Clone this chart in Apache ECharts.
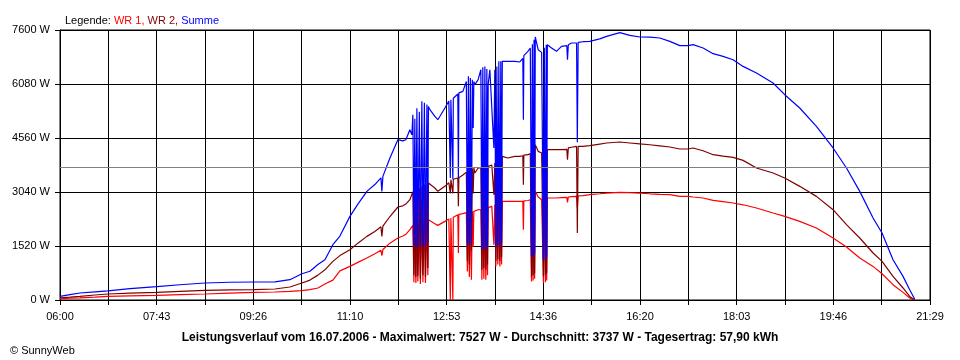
<!DOCTYPE html>
<html>
<head>
<meta charset="utf-8">
<script src="https://cdn.jsdelivr.net/npm/echarts@6/dist/echarts.min.js"></script>
<style>
html,body{margin:0;padding:0;background:#fff;}
#chart{width:960px;height:360px;}
</style>
</head>
<body>
<div id="chart"></div>
<script>
// Time in minutes after 06:00
const minutesAfter6 = [
  0, 10.7, 21.3, 37.4, 51.2, 74.7, 103.5, 128.1, 154.8, 181.5,
  207.1, 229.5, 245.5, 258.3, 266.9, 275.4, 282.9, 291.4, 298.9, 309.6,
  318.1, 327.7, 336.2, 342.7, 343.7, 344.8, 352.3, 360.8, 366.1, 369.3,
  373.6, 375.7, 376.8, 377.9, 378.9, 380.0, 381.1, 382.1, 383.7, 384.8,
  386.4, 387.5, 389.1, 390.2, 391.8, 392.8, 393.4, 395.0, 400.3, 403.5,
  411.0, 415.2, 416.8, 417.4, 419.5, 420.0, 421.6, 424.8, 425.4, 425.9,
  430.2, 433.9, 435.0, 436.1, 437.1, 438.2, 439.3, 440.3, 441.2, 441.9,
  443.0, 446.5, 449.4, 450.5, 451.5, 452.6, 453.7, 454.7, 455.8, 456.5,
  457.2, 459.0, 461.1, 463.3, 464.3, 465.4, 466.5, 467.5, 468.6, 469.7,
  470.7, 471.5, 472.3, 478.2, 485.7, 491.0, 494.2, 494.8, 495.3, 499.6,
  502.2, 503.5, 504.4, 505.2, 506.2, 506.8, 507.5, 510.6, 514.3, 516.2,
  517.2, 518.3, 519.2, 519.7, 520.4, 524.9, 530.2, 535.5, 541.2, 541.9,
  542.8, 546.2, 551.6, 552.4, 553.3, 558.6, 565.7, 576.4, 583.6, 597.8,
  608.5, 619.1, 629.8, 640.5, 651.2, 661.8, 670.7, 676.0, 686.7, 697.4,
  708.0, 718.7, 729.4, 743.7, 761.4, 773.9, 789.9, 807.7, 825.5, 839.8,
  854.0, 868.2, 877.8, 889.5, 900.2, 907.3, 912.6
];
const summe = [
  100, 150, 197, 230, 259, 320, 375, 430, 478, 500,
  507, 510, 571, 740, 810, 1000, 1134, 1557, 1800, 2354,
  2700, 3058, 3250, 3440, 3058, 3480, 3997, 4512, 4480, 4512,
  4794, 4653, 5216, 1550, 5100, 1500, 5400, 1520, 5300, 1480,
  5591, 1550, 5550, 1500, 5500, 1600, 5450, 5357, 5168, 5075,
  5404, 5600, 3434, 5638, 3400, 5680, 5731, 5800, 3434, 5830,
  5872, 6150, 1557, 6295, 1600, 6250, 1557, 6200, 4842, 6150,
  6061, 6202, 6483, 1416, 6550, 1450, 6576, 1416, 6500, 1500,
  6061, 6480, 6482, 4279, 6482, 1509, 6576, 1550, 6717, 1509,
  6717, 1600, 6718, 6717, 6717, 6700, 6800, 5075, 6880, 7000,
  7093, 1227, 7200, 1227, 7328, 1300, 7403, 7046, 6970, 1134,
  7100, 1134, 7187, 1200, 7187, 7093, 6999, 7140, 7160, 6765,
  7187, 7234, 7234, 4437, 7250, 7270, 7281, 7350, 7421, 7527,
  7450, 7403, 7400, 7375, 7281, 7159, 7159, 7187, 7093, 6933,
  6858, 6764, 6576, 6390, 6108, 5779, 5404, 4887, 4279, 3716,
  3058, 2308, 1886, 1134, 665, 290, 28
];
const wr2 = [
  60, 80, 101, 140, 169, 195, 214, 245, 270, 285,
  290, 310, 366, 478, 560, 700, 850, 1087, 1250, 1416,
  1600, 1791, 1930, 2060, 1791, 2080, 2350, 2618, 2650, 2700,
  2823, 2870, 3050, 700, 3050, 650, 3100, 680, 3150, 600,
  3200, 700, 3250, 650, 3250, 900, 3293, 3293, 3152, 3058,
  3199, 3300, 3000, 3387, 3000, 3400, 3420, 3434, 2636, 3440,
  3520, 3600, 1100, 3650, 1000, 3680, 1400, 3700, 3000, 3716,
  3575, 3716, 3716, 853, 3740, 900, 3760, 853, 3760, 1000,
  3762, 3780, 3800, 2964, 3856, 1100, 3880, 1150, 3997, 1100,
  4043, 1200, 4043, 3997, 4043, 4043, 4060, 3246, 4080, 4090,
  4120, 665, 4200, 700, 4300, 750, 4372, 4184, 4138, 665,
  4200, 700, 4231, 750, 4231, 4231, 4231, 4231, 4240, 3949,
  4280, 4300, 4324, 1886, 4324, 4324, 4344, 4390, 4419, 4448,
  4420, 4392, 4370, 4340, 4307, 4251, 4251, 4279, 4200, 4090,
  4050, 4015, 3930, 3716, 3575, 3434, 3199, 2917, 2542, 2120,
  1745, 1323, 1087, 665, 338, 101, 0
];
const wr1 = [
  30, 50, 60, 80, 101, 115, 130, 150, 169, 195,
  214, 225, 240, 262, 290, 338, 450, 560, 820, 946,
  1060, 1182, 1300, 1400, 1250, 1420, 1600, 1745, 1800, 1850,
  1979, 1990, 2100, 500, 2050, 480, 2150, 520, 2150, 450,
  2250, 500, 2250, 480, 2250, 700, 2260, 2260, 2148, 2100,
  2213, 2280, 0, 2308, 0, 2330, 2360, 2401, 1323, 2410,
  2430, 2460, 800, 2480, 650, 2490, 571, 2495, 1500, 2495,
  2449, 2542, 2540, 571, 2560, 600, 2580, 571, 2590, 700,
  2600, 2610, 2636, 1557, 2683, 946, 2700, 1000, 2730, 946,
  2776, 1000, 2776, 2776, 2776, 2776, 2780, 1979, 2790, 2800,
  2823, 524, 2900, 550, 3000, 600, 3058, 2900, 2823, 479,
  2850, 500, 2871, 550, 2871, 2871, 2871, 2880, 2890, 2750,
  2900, 2910, 2917, 2600, 2930, 2940, 2964, 2990, 3011, 3030,
  3020, 3011, 2990, 2975, 2964, 2917, 2917, 2900, 2871, 2805,
  2770, 2730, 2680, 2590, 2449, 2354, 2213, 2027, 1745, 1492,
  1182, 946, 740, 431, 214, 56, 0
];
const timeTickLabels = ['06:00','07:43','09:26','11:10','12:53','14:36','16:20','18:03','19:46','21:29'];
const yMax = 7600;
const yStep = 1520;
const average = 3737;
const maximum = 7527;
const dateText = '16.07.2006';
const dailyYield = '57,90';

const xStep = 929 / 18;
const font = "'Liberation Sans', Arial, sans-serif";

function pairs(vals) {
  return minutesAfter6.map((t, i) => [t, vals[i]]);
}

const chart = echarts.init(document.getElementById('chart'), null, {renderer: 'canvas'});
chart.setOption({
  animation: false,
  backgroundColor: '#ffffff',
  textStyle: {fontFamily: font},
  title: [
    {
      left: 60, top: 10,
      text: '{k|Legende: }{a|WR 1,}{b| WR 2,}{c| Summe}',
      textStyle: {
        fontWeight: 'normal',
        rich: {
          k: {color: '#000000', fontSize: 11, fontWeight: 'normal', fontFamily: font},
          a: {color: '#ff0000', fontSize: 11, fontWeight: 'normal', fontFamily: font},
          b: {color: '#800000', fontSize: 11, fontWeight: 'normal', fontFamily: font},
          c: {color: '#0000ff', fontSize: 11, fontWeight: 'normal', fontFamily: font}
        }
      }
    },
    {
      left: 'center', top: 327,
      text: 'Leistungsverlauf vom ' + dateText + ' - Maximalwert: ' + maximum + ' W - Durchschnitt: ' + average + ' W - Tagesertrag: ' + dailyYield + ' kWh',
      textStyle: {color: '#000', fontSize: 12, fontWeight: 'bold', fontFamily: font}
    },
    {
      left: 5, top: 340,
      text: '\u00a9 SunnyWeb',
      textStyle: {color: '#000', fontSize: 11, fontWeight: 'normal', fontFamily: font}
    }
  ],
  grid: {left: 60, right: 30, top: 30, bottom: 60, show: true, borderColor: '#000', borderWidth: 1, backgroundColor: 'transparent'},
  xAxis: {
    type: 'value',
    min: 0,
    max: xStep * 18,
    interval: xStep,
    axisLine: {show: true, lineStyle: {color: '#000', width: 1}},
    axisTick: {show: true, length: 5, inside: false, lineStyle: {color: '#000'}},
    splitLine: {show: true, lineStyle: {color: '#000', width: 1}},
    axisLabel: {
      color: '#000', fontSize: 11, fontFamily: font, margin: 11,
      formatter: function (v) {
        const n = Math.round(v / xStep);
        return n % 2 === 0 ? timeTickLabels[n / 2] : '';
      }
    }
  },
  yAxis: {
    type: 'value',
    min: 0,
    max: yMax,
    interval: yStep,
    axisLine: {show: true, lineStyle: {color: '#000', width: 1}},
    axisTick: {show: true, length: 5, inside: false, lineStyle: {color: '#000'}},
    splitLine: {show: true, lineStyle: {color: '#000', width: 1}},
    axisLabel: {
      color: '#000', fontSize: 11, fontFamily: font, margin: 10,
      formatter: function (v) { return String(Math.round(v)) + ' W'; }
    }
  },
  series: [
    {
      name: 'WR 1', type: 'line', data: pairs(wr1), showSymbol: false, symbol: 'none',
      lineStyle: {color: '#ff0000', width: 1.2}, itemStyle: {color: '#ff0000'}
    },
    {
      name: 'WR 2', type: 'line', data: pairs(wr2), showSymbol: false, symbol: 'none',
      lineStyle: {color: '#800000', width: 1.2}, itemStyle: {color: '#800000'}
    },
    {
      name: 'Summe', type: 'line', data: pairs(summe), showSymbol: false, symbol: 'none',
      lineStyle: {color: '#0000ff', width: 1.2}, itemStyle: {color: '#0000ff'},
      markLine: {
        silent: true, symbol: ['none', 'none'], label: {show: false},
        lineStyle: {color: '#808080', width: 1, type: 'solid'},
        data: [{yAxis: average}]
      }
    }
  ]
});
</script>
</body>
</html>
